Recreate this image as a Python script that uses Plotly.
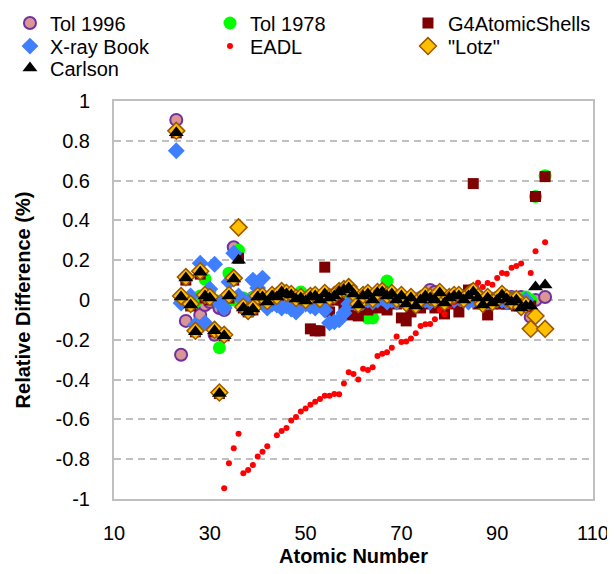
import plotly.graph_objects as go

# atomic numbers shared by most series
z_all = list(range(23, 101))

carlson = [0.84, 0.015, 0.11, -0.025, -0.16, 0.14, 0.02, 0.01, -0.155, -0.47,
           -0.18, 0.02, 0.105, 0.2, -0.04, -0.06, -0.045, 0.015, 0.015, -0.01,
           0.02, 0.015, 0.04, 0.03, 0.025, 0.005, 0.01, -0.005, 0.015, 0.02,
           0.0, 0.03, 0.01, 0.02, 0.04, 0.05, 0.06, 0.03, -0.025, 0.02,
           0.03, 0.0, 0.035, 0.04, 0.02, 0.03, 0.0, 0.02, -0.02, 0.01,
           -0.03, 0.0, 0.02, 0.01, 0.0, 0.035, -0.015, 0.01, 0.02, 0.02,
           0.0, 0.02, 0.04, 0.01, -0.025, 0.01, -0.015, 0.0, 0.025, 0.005,
           -0.01, 0.0, -0.04, -0.03, -0.03, 0.065, None, 0.075]

lotz = [0.85, 0.02, 0.115, -0.02, -0.155, 0.145, 0.025, 0.015, -0.15, -0.465,
        -0.175, 0.025, 0.11, 0.365, -0.035, -0.055, -0.04, 0.02, 0.02, -0.005,
        0.025, 0.02, 0.045, 0.035, 0.03, 0.01, 0.015, 0.0, 0.02, 0.025,
        0.005, 0.035, 0.015, 0.025, 0.045, 0.055, 0.065, 0.035, -0.02, 0.025,
        0.035, 0.005, 0.04, 0.045, 0.025, 0.035, 0.005, 0.025, -0.015, 0.015,
        -0.025, 0.005, 0.025, 0.015, 0.005, 0.04, -0.01, 0.015, 0.025, 0.025,
        0.005, 0.025, 0.045, 0.015, -0.02, 0.015, -0.01, 0.005, 0.03, 0.01,
        -0.005, 0.005, -0.035, -0.025, -0.145, -0.08, None, -0.145]

g4 = [0.84, 0.01, 0.1, -0.03, -0.16, 0.13, 0.01, 0.0, -0.16, -0.47,
      -0.18, 0.01, 0.1, 0.21, -0.04, -0.06, -0.05, 0.0, 0.0, -0.02,
      0.0, 0.0, 0.02, 0.01, 0.0, -0.01, 0.0, -0.01, -0.145, -0.155,
      -0.155, 0.165, -0.06, 0.0, 0.01, -0.025, -0.075, 0.0, -0.08, 0.0,
      -0.05, -0.01, -0.04, 0.0, -0.05, 0.0, -0.02, -0.09, -0.105, -0.06,
      -0.03, -0.04, -0.02, 0.0, -0.04, -0.01, -0.07, 0.0, -0.02, -0.06,
      0.0, 0.05, 0.585, -0.02, -0.01, -0.075, -0.02, -0.01, -0.02, -0.02,
      -0.02, -0.03, -0.02, -0.02, -0.03, 0.52, None, 0.62]

xray = [0.75, -0.015, 0.0, 0.02, -0.125, 0.185, -0.115, 0.055, 0.18, -0.015,
        -0.04, 0.09, 0.235, 0.02, 0.0, -0.01, 0.1, 0.06, 0.11, -0.04,
        -0.02, -0.025, -0.04, -0.03, -0.045, -0.06, -0.03, -0.02, -0.03, -0.04,
        -0.02, -0.05, -0.115, -0.11, -0.1, -0.065, -0.02, -0.01, 0.0, -0.01,
        0.0, -0.01, 0.0, 0.01, -0.01, 0.0, -0.01, 0.0, -0.01, 0.0,
        -0.01, 0.0, 0.0, -0.01, 0.0, 0.01, -0.01, 0.0, 0.0, 0.01,
        0.0, -0.01, 0.0, 0.01, 0.0, -0.01, 0.0, 0.0, 0.0, -0.01,
        0.0, 0.0, -0.01, 0.0, None, None, None, None]

tol1996 = [0.905, -0.275, -0.105, -0.005, -0.02, -0.075, -0.025, -0.01, -0.175, -0.04,
           -0.05, 0.0, 0.265, 0.01, 0.005, 0.0, 0.01, 0.0, 0.005, 0.0,
           0.01, 0.0, 0.02, 0.01, 0.0, 0.0, 0.01, 0.0, 0.0, 0.01,
           0.0, 0.01, 0.0, 0.01, 0.02, 0.03, 0.04, 0.02, 0.0, 0.01,
           0.02, 0.0, 0.02, 0.02, 0.01, 0.02, 0.0, 0.01, 0.0, 0.0,
           0.0, 0.01, 0.02, 0.05, 0.04, 0.02, 0.0, 0.01, 0.02, 0.01,
           0.02, 0.03, 0.05, 0.02, 0.0, 0.01, 0.0, 0.01, 0.02, 0.01,
           0.015, 0.01, 0.015, 0.0, -0.085, 0.0, None, 0.015]

tol1978 = [None, None, None, 0.0, -0.01, 0.02, 0.105, 0.04, 0.0, -0.24,
           -0.02, 0.135, 0.0, 0.25, 0.01, 0.0, 0.01, 0.0, 0.01, 0.0,
           0.01, 0.0, 0.02, 0.01, 0.0, 0.01, 0.04, 0.0, 0.025, 0.0,
           0.0, 0.01, 0.0, 0.01, 0.0, 0.02, 0.0, 0.01, 0.0, -0.01,
           -0.09, -0.09, 0.0, 0.01, 0.095, 0.01, 0.0, 0.0, 0.0, 0.01,
           0.0, 0.01, 0.0, 0.01, 0.02, 0.0, 0.01, 0.0, 0.0, 0.01,
           0.0, 0.01, 0.02, 0.0, 0.0, 0.0, 0.0, 0.01, 0.0, 0.0,
           0.01, 0.0, 0.0, 0.015, 0.0, 0.52, None, 0.625]

eadl_z = [33, 34, 35, 36, 37, 38, 39, 40, 41, 42, 44, 45, 46, 47, 48, 49, 50,
          51, 52, 53, 54, 55, 56, 57, 58, 59, 60, 61, 62, 63, 64, 65, 66, 67,
          68, 69, 70, 71, 72, 73, 74, 75, 76, 77, 78, 79, 80, 81, 82, 83, 84,
          85, 86, 87, 88, 89, 90, 91, 92, 93, 94, 95, 97, 98, 100]
eadl = [-0.946, -0.82, -0.745, -0.672, -0.871, -0.854, -0.829, -0.787, -0.762,
        -0.735, -0.68, -0.658, -0.643, -0.606, -0.588, -0.56, -0.545, -0.526,
        -0.511, -0.497, -0.481, -0.481, -0.472, -0.474, -0.42, -0.363, -0.372,
        -0.399, -0.345, -0.352, -0.338, -0.281, -0.27, -0.263, -0.24, -0.183,
        -0.211, -0.208, -0.193, -0.167, -0.131, -0.122, -0.12, -0.097, -0.05,
        -0.072, -0.03, -0.01, 0.0, 0.03, 0.05, 0.07, 0.087, 0.065, 0.085,
        0.077, 0.11, 0.136, 0.132, 0.162, 0.171, 0.184, 0.136, 0.245, 0.29]

y_ticks = [1, 0.8, 0.6, 0.4, 0.2, 0, -0.2, -0.4, -0.6, -0.8, -1]
y_labels = ["1", "0.8", "0.6", "0.4", "0.2", "0", "-0.2", "-0.4", "-0.6", "-0.8", "-1"]
x_ticks = [10, 30, 50, 70, 90, 110]

FONT = "Liberation Sans, Arial, sans-serif"
GRID = "#BFBFBF"

fig = go.Figure()

# one legend per entry so the 3-column grid can be placed like the reference
fig.add_trace(go.Scatter(x=z_all, y=tol1996, mode="markers", name="Tol 1996", legend="legend",
                         marker=dict(symbol="circle", size=12, color="#D99694",
                                     line=dict(color="#7030A0", width=2))))
fig.add_trace(go.Scatter(x=z_all, y=tol1978, mode="markers", name="Tol 1978", legend="legend2",
                         marker=dict(symbol="circle", size=13, color="#00FF00",
                                     line=dict(width=0))))
fig.add_trace(go.Scatter(x=z_all, y=g4, mode="markers", name="G4AtomicShells", legend="legend3",
                         marker=dict(symbol="square", size=11, color="#7F0000",
                                     line=dict(width=0))))
fig.add_trace(go.Scatter(x=z_all, y=xray, mode="markers", name="X-ray Book", legend="legend4",
                         marker=dict(symbol="diamond", size=13, color="#3F7FFF",
                                     line=dict(width=0))))
fig.add_trace(go.Scatter(x=eadl_z, y=eadl, mode="markers", name="EADL", legend="legend5",
                         marker=dict(symbol="circle", size=6, color="#FF0000",
                                     line=dict(width=0))))
fig.add_trace(go.Scatter(x=z_all, y=lotz, mode="markers", name='"Lotz"', legend="legend6",
                         marker=dict(symbol="diamond", size=13, color="#FFC000",
                                     line=dict(color="#9C5700", width=1.5))))
fig.add_trace(go.Scatter(x=z_all, y=carlson, mode="markers", name="Carlson", legend="legend7",
                         marker=dict(symbol="triangle-up", size=13, color="#000000",
                                     line=dict(width=0))))

leg = dict(orientation="h", xanchor="left", yanchor="middle",
           font=dict(size=20), bgcolor="rgba(0,0,0,0)", itemwidth=30)
col_x = [-0.2172, 0.2004, 0.6137]
row_y = [1.196, 1.138, 1.083]

# page body adds an 8px offset, so the figure is 8px smaller and shifted back
fig.update_layout(
    width=607, height=566,
    margin=dict(l=106, r=22, t=93, b=75, autoexpand=False),
    plot_bgcolor="white", paper_bgcolor="white",
    font=dict(family=FONT, size=20, color="#000000"),
    showlegend=True,
    legend=dict(leg, x=col_x[0], y=row_y[0]),
    legend2=dict(leg, x=col_x[1], y=row_y[0]),
    legend3=dict(leg, x=col_x[2], y=row_y[0]),
    legend4=dict(leg, x=col_x[0], y=row_y[1]),
    legend5=dict(leg, x=col_x[1], y=row_y[1]),
    legend6=dict(leg, x=col_x[2], y=row_y[1]),
    legend7=dict(leg, x=col_x[0], y=row_y[2]),
    xaxis=dict(range=[10, 110], tickvals=x_ticks, showgrid=False, zeroline=False,
               showline=True, linecolor=GRID, linewidth=2, mirror=True,
               ticks="outside", ticklen=15, tickcolor="rgba(255,255,255,0)",
               title=dict(text="<b>Atomic Number</b>", font=dict(size=20), standoff=6),
               tickfont=dict(size=20)),
    yaxis=dict(range=[-1, 1], tickvals=y_ticks, ticktext=y_labels, showgrid=True,
               gridcolor=GRID, gridwidth=2, griddash="7px,5px", zeroline=False,
               showline=True, linecolor=GRID, linewidth=2, mirror=True,
               ticks="outside", ticklen=18, tickcolor="rgba(255,255,255,0)",
               title=dict(text="<b>Relative Difference (%)</b>", font=dict(size=20),
                          standoff=20),
               tickfont=dict(size=20)),
)

fig.write_html("out.html")
